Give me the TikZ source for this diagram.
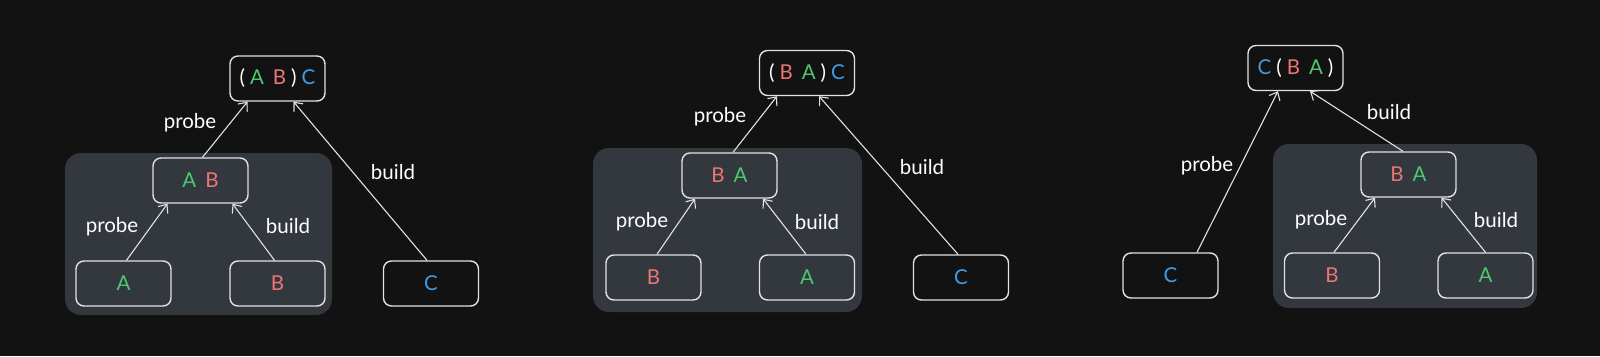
\documentclass[tikz,border=0pt]{standalone}
\usepackage{xcolor}
\usepackage{fontspec}
\setmainfont{Lato}
\usetikzlibrary{arrows.meta}
\definecolor{bgdark}{HTML}{121212}
\definecolor{panelgray}{HTML}{33383F}
\definecolor{lgreen}{HTML}{4CC96E}
\definecolor{lred}{HTML}{EE7575}
\definecolor{lblue}{HTML}{3E9BE6}
\definecolor{sketch}{HTML}{E2E2E2}
\newcommand{\ga}{{\color{lgreen}A}}
\newcommand{\rb}{{\color{lred}B}}
\newcommand{\bc}{{\color{lblue}C}}
\newcommand{\nsp}{\hspace{5pt}}
\newcommand{\wsp}{\hspace{9pt}}

\begin{document}
\begin{tikzpicture}[x=1pt, y=-1pt,
    every node/.style={font=\fontsize{20.5}{24}\selectfont, text=white},
    relbox/.style={draw=sketch, line width=1.4pt, rounded corners=8pt, minimum width=95pt, minimum height=45pt, inner sep=0pt},
    toprel/.style={relbox, fill=bgdark},
    subrel/.style={relbox, fill=panelgray},
    edge/.style={draw=sketch, line width=1.1pt, -{Straight Barb[length=7pt,width=12pt]}},
    group/.style={fill=panelgray, rounded corners=16pt}]
    \fill[bgdark] (0,0) rectangle (1600,356);

    % (A B) C
    \fill[group] (65,153) rectangle (332,315);
    \node[toprel] (top1) at (277.5,78.5) {(\nsp\ga\wsp\rb\nsp)\nsp\bc};
    \node[subrel] (ab1) at (200.5,180.5) {\ga\wsp\rb};
    \node[subrel] (a1) at (123.5,283.5) {\ga};
    \node[subrel] (b1) at (277.5,283.5) {\rb};
    \node[toprel] (c1) at (431,283.5) {\bc};
    \draw[edge] ([xshift=2]ab1.north) -- ([xshift=-30]top1.south);
    \draw[edge] ([xshift=-4]c1.north) -- ([xshift=16]top1.south);
    \draw[edge] ([xshift=3]a1.north) -- ([xshift=-33]ab1.south);
    \draw[edge] ([xshift=-3]b1.north) -- ([xshift=32]ab1.south);
    \node (probe1) at (190,123) {probe};
    \node (build1) at (393,172) {build};
    \node (probe1b) at (112,227) {probe};
    \node (build1b) at (288,226) {build};

    % (B A) C
    \fill[group] (593,148) rectangle (862,312);
    \node[toprel] (top2) at (807,73) {(\nsp\rb\wsp\ga\nsp)\nsp\bc};
    \node[subrel] (ba2) at (729.5,175.5) {\rb\wsp\ga};
    \node[subrel] (b2) at (653.5,277.5) {\rb};
    \node[subrel] (a2) at (807,277.5) {\ga};
    \node[toprel] (c2) at (961,277.5) {\bc};
    \draw[edge] ([xshift=3.5]ba2.north) -- ([xshift=-30]top2.south);
    \draw[edge] ([xshift=-3]c2.north) -- ([xshift=12]top2.south);
    \draw[edge] ([xshift=3.5]b2.north) -- ([xshift=-34.5]ba2.south);
    \draw[edge] ([xshift=-1]a2.north) -- ([xshift=33.5]ba2.south);
    \node (probe2) at (720,117) {probe};
    \node (build2) at (922,167) {build};
    \node (probe2b) at (642,222) {probe};
    \node (build2b) at (817,222) {build};

    % C (B A)
    \fill[group] (1273,144) rectangle (1537,308);
    \node[toprel] (top3) at (1295.5,68) {\bc\nsp(\nsp\rb\wsp\ga\nsp)};
    \node[subrel] (ba3) at (1408.5,174.5) {\rb\wsp\ga};
    \node[toprel] (c3) at (1170.5,275.5) {\bc};
    \node[subrel] (b3) at (1332,275.5) {\rb};
    \node[subrel] (a3) at (1485.5,275.5) {\ga};
    \draw[edge] ([xshift=26.5]c3.north) -- ([xshift=-17.5]top3.south);
    \draw[edge] ([xshift=-5.5]ba3.north) -- ([xshift=14.5]top3.south);
    \draw[edge] ([xshift=2]b3.north) -- ([xshift=-33.5]ba3.south);
    \draw[edge] (a3.north) -- ([xshift=33]ba3.south);
    \node (build3) at (1389,112) {build};
    \node (probe3) at (1207,166) {probe};
    \node (probe3b) at (1321,220) {probe};
    \node (build3b) at (1496,220) {build};
\end{tikzpicture}
\end{document}
